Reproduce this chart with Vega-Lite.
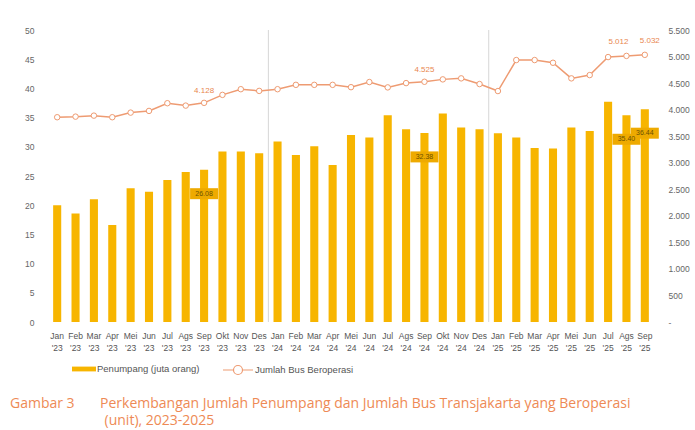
{
  "$schema": "https://vega.github.io/schema/vega-lite/v6.json",
  "width": 606,
  "height": 292,
  "autosize": "none",
  "padding": {"left": 48, "top": 30, "right": 41, "bottom": 108},
  "background": "white",
  "config": {"view": {"stroke": null}, "font": "Liberation Sans, sans-serif"},
  "title": {
    "text": ["Gambar 3\u00a0\u00a0\u00a0\u00a0\u00a0\u00a0\u00a0Perkembangan Jumlah Penumpang dan Jumlah Bus Transjakarta yang Beroperasi", "\u200b\u00a0\u00a0\u00a0\u00a0\u00a0\u00a0\u00a0\u00a0\u00a0\u00a0\u00a0\u00a0\u00a0\u00a0\u00a0\u00a0\u00a0\u00a0\u00a0\u00a0\u00a0\u00a0\u00a0\u00a0\u00a0\u00a0(unit), 2023-2025"],
    "orient": "bottom",
    "anchor": "start",
    "frame": "group",
    "font": "Open Sans",
    "fontSize": 14,
    "fontWeight": "normal",
    "color": "#EE8A55",
    "lineHeight": 16.5,
    "dx": -38,
    "offset": 20
  },
  "data": {
    "values": [
      {"m": "Jan '23", "p": 20.0, "b": 3857},
      {"m": "Feb '23", "p": 18.6, "b": 3868},
      {"m": "Mar '23", "p": 21.0, "b": 3887},
      {"m": "Apr '23", "p": 16.6, "b": 3857},
      {"m": "Mei '23", "p": 22.9, "b": 3944},
      {"m": "Jun '23", "p": 22.3, "b": 3976},
      {"m": "Jul '23", "p": 24.3, "b": 4121},
      {"m": "Ags '23", "p": 25.7, "b": 4076},
      {"m": "Sep '23", "p": 26.08, "b": 4128, "pl": "26.08", "bl": "4.128"},
      {"m": "Okt '23", "p": 29.2, "b": 4278},
      {"m": "Nov '23", "p": 29.2, "b": 4385},
      {"m": "Des '23", "p": 28.9, "b": 4353},
      {"m": "Jan '24", "p": 30.9, "b": 4385, "sep": true},
      {"m": "Feb '24", "p": 28.6, "b": 4467},
      {"m": "Mar '24", "p": 30.1, "b": 4467},
      {"m": "Apr '24", "p": 26.9, "b": 4467},
      {"m": "Mei '24", "p": 32.0, "b": 4423},
      {"m": "Jun '24", "p": 31.6, "b": 4520},
      {"m": "Jul '24", "p": 35.4, "b": 4419},
      {"m": "Ags '24", "p": 33.0, "b": 4500},
      {"m": "Sep '24", "p": 32.38, "b": 4525, "pl": "32.38", "bl": "4.525"},
      {"m": "Okt '24", "p": 35.7, "b": 4570},
      {"m": "Nov '24", "p": 33.3, "b": 4589},
      {"m": "Des '24", "p": 33.0, "b": 4482},
      {"m": "Jan '25", "p": 32.3, "b": 4350, "sep": true},
      {"m": "Feb '25", "p": 31.6, "b": 4934},
      {"m": "Mar '25", "p": 29.8, "b": 4934},
      {"m": "Apr '25", "p": 29.7, "b": 4883},
      {"m": "Mei '25", "p": 33.3, "b": 4589},
      {"m": "Jun '25", "p": 32.7, "b": 4651},
      {"m": "Jul '25", "p": 37.7, "b": 4990},
      {"m": "Ags '25", "p": 35.4, "b": 5012, "pl": "35.40", "bl": "5.012"},
      {"m": "Sep '25", "p": 36.44, "b": 5032, "pl": "36.44", "bl": "5.032"}
    ]
  },
  "encoding": {
    "x": {
      "field": "m", "type": "nominal", "sort": null,
      "scale": {"paddingInner": 0, "paddingOuter": 0},
      "axis": {"title": null, "labelExpr": "split(datum.label, ' ')", "labelAngle": 0, "labelFontSize": 8.5, "labelColor": "#555555", "labelPadding": 9, "labelLineHeight": 12, "ticks": false, "domain": false, "labelOverlap": false}
    }
  },
  "layer": [
    {
      "encoding": {
        "y": {
          "field": "p", "type": "quantitative",
          "scale": {"domain": [0, 50]},
          "axis": {"title": null, "values": [0, 5, 10, 15, 20, 25, 30, 35, 40, 45, 50], "labelFontSize": 8.5, "labelColor": "#666666", "ticks": false, "domain": false, "grid": false, "labelPadding": 14}
        }
      },
      "layer": [
        {
          "mark": {"type": "bar", "width": {"band": 0.44}},
          "encoding": {
            "fill": {
              "datum": "Penumpang (juta orang)", "type": "nominal",
              "scale": {"range": ["#F7B500"]},
              "legend": {"orient": "none", "legendX": 24, "legendY": 327, "title": null, "symbolType": "M-1,-0.2H1V0.2H-1Z", "symbolSize": 576, "symbolStrokeWidth": 0, "labelFontSize": 9.5, "labelColor": "#555555", "labelOffset": 1}
            }
          }
        },
        {
          "transform": [{"filter": "datum.sep === true"}],
          "mark": {"type": "rule", "color": "#d6d6d6", "strokeWidth": 1},
          "encoding": {
            "x": {"field": "m", "type": "nominal", "sort": null, "bandPosition": 0},
            "y": {"datum": 0},
            "y2": {"datum": 50}
          }
        },
        {
          "transform": [{"filter": "datum.pl != null"}],
          "mark": {"type": "point", "shape": "M-1.4,-0.55H1.4V0.55H-1.4Z", "size": 400, "filled": true, "color": "#EEAA00", "opacity": 1, "yOffset": 24}
        },
        {
          "transform": [{"filter": "datum.pl != null"}],
          "mark": {"type": "text", "fontSize": 7, "color": "#6b5200", "dy": 24, "baseline": "middle"},
          "encoding": {"text": {"field": "pl"}}
        }
      ]
    },
    {
      "encoding": {
        "y": {
          "field": "b", "type": "quantitative",
          "scale": {"domain": [0, 5500]},
          "axis": {"orient": "right", "title": null, "values": [0, 500, 1000, 1500, 2000, 2500, 3000, 3500, 4000, 4500, 5000, 5500], "labelExpr": "datum.value == 0 ? '-' : replace(format(datum.value, ','), ',', '.')", "labelAlign": "left", "labelFontSize": 8.5, "labelColor": "#666666", "ticks": false, "domain": false, "grid": false, "labelPadding": 14}
        }
      },
      "layer": [
        {
          "mark": {"type": "line", "strokeWidth": 1.5, "point": {"filled": true, "fill": "white", "size": 30, "strokeWidth": 1}},
          "encoding": {
            "stroke": {
              "datum": "Jumlah Bus Beroperasi", "type": "nominal",
              "scale": {"range": ["#EE9B72"]},
              "legend": {"orient": "none", "legendX": 174, "legendY": 324, "title": null, "symbolType": "M-1,0H-0.3M0.3,0H1M0.3,0A0.3,0.3 0 1 1 -0.3,0A0.3,0.3 0 1 1 0.3,0", "symbolSize": 900, "symbolFillColor": "white", "symbolStrokeWidth": 1.2, "labelFontSize": 9.5, "labelColor": "#555555", "labelOffset": 1}
            }
          }
        },
        {
          "transform": [{"filter": "datum.bl != null && datum.m != \"Ags '25\" && datum.m != \"Sep '25\""}],
          "mark": {"type": "text", "fontSize": 8, "color": "#E9874F", "dy": -12, "baseline": "middle"},
          "encoding": {"text": {"field": "bl"}}
        },
        {
          "transform": [{"filter": "datum.m == \"Ags '25\""}],
          "mark": {"type": "text", "fontSize": 8, "color": "#E9874F", "dy": -14, "dx": -8, "baseline": "middle"},
          "encoding": {"text": {"field": "bl"}}
        },
        {
          "transform": [{"filter": "datum.m == \"Sep '25\""}],
          "mark": {"type": "text", "fontSize": 8, "color": "#E9874F", "dy": -14, "dx": 5, "baseline": "middle"},
          "encoding": {"text": {"field": "bl"}}
        }
      ]
    }
  ],
  "resolve": {"scale": {"y": "independent"}}
}
